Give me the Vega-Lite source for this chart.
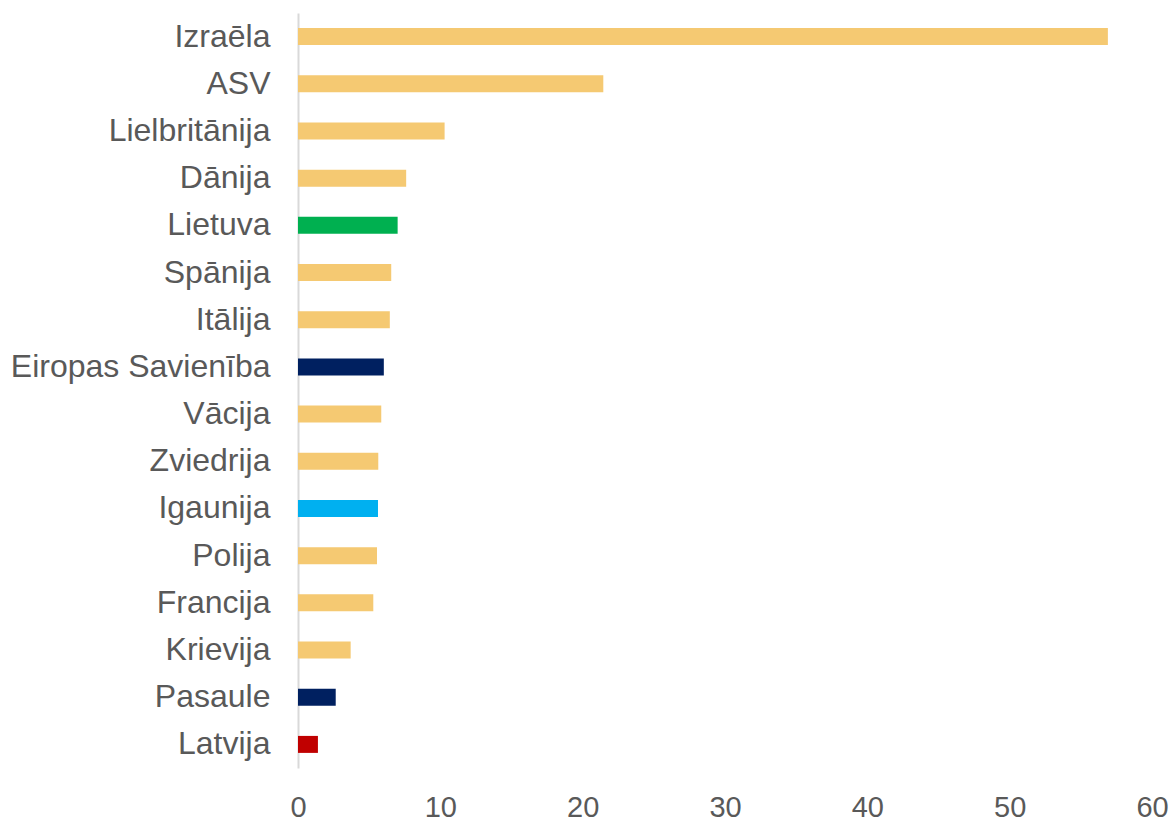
{
  "$schema": "https://vega.github.io/schema/vega-lite/v6.json",
  "autosize": {"type": "none"},
  "padding": {"left": 298, "top": 13, "right": 21, "bottom": 52},
  "width": 854,
  "height": 755,
  "background": "white",
  "config": {"view": {"stroke": null}, "font": "Liberation Sans"},
  "data": {
    "values": [
      {"valsts": "Izraēla", "vertiba": 56.9, "grupa": "Citas"},
      {"valsts": "ASV", "vertiba": 21.45, "grupa": "Citas"},
      {"valsts": "Lielbritānija", "vertiba": 10.3, "grupa": "Citas"},
      {"valsts": "Dānija", "vertiba": 7.6, "grupa": "Citas"},
      {"valsts": "Lietuva", "vertiba": 7.0, "grupa": "Lietuva"},
      {"valsts": "Spānija", "vertiba": 6.55, "grupa": "Citas"},
      {"valsts": "Itālija", "vertiba": 6.45, "grupa": "Citas"},
      {"valsts": "Eiropas Savienība", "vertiba": 6.03, "grupa": "Kopā"},
      {"valsts": "Vācija", "vertiba": 5.85, "grupa": "Citas"},
      {"valsts": "Zviedrija", "vertiba": 5.64, "grupa": "Citas"},
      {"valsts": "Igaunija", "vertiba": 5.62, "grupa": "Igaunija"},
      {"valsts": "Polija", "vertiba": 5.55, "grupa": "Citas"},
      {"valsts": "Francija", "vertiba": 5.29, "grupa": "Citas"},
      {"valsts": "Krievija", "vertiba": 3.7, "grupa": "Citas"},
      {"valsts": "Pasaule", "vertiba": 2.65, "grupa": "Kopā"},
      {"valsts": "Latvija", "vertiba": 1.4, "grupa": "Latvija"}
    ]
  },
  "mark": {"type": "bar"},
  "encoding": {
    "y": {
      "field": "valsts",
      "type": "nominal",
      "sort": null,
      "scale": {"paddingInner": 0.64, "paddingOuter": 0.32},
      "axis": {
        "title": null,
        "ticks": false,
        "domainColor": "#D9D9D9",
        "domainWidth": 2,
        "labelFontSize": 32,
        "labelColor": "#595959",
        "labelPadding": 28,
        "labelLimit": 400
      }
    },
    "x": {
      "field": "vertiba",
      "type": "quantitative",
      "scale": {"domain": [0, 60], "nice": false},
      "axis": {
        "title": null,
        "values": [0, 10, 20, 30, 40, 50, 60],
        "grid": false,
        "domain": false,
        "ticks": false,
        "labelFontSize": 29,
        "labelColor": "#595959",
        "labelPadding": 25,
        "labelFlush": false
      }
    },
    "color": {
      "field": "grupa",
      "type": "nominal",
      "scale": {
        "domain": ["Citas", "Lietuva", "Igaunija", "Latvija", "Kopā"],
        "range": ["#F5C972", "#00B050", "#00B0F0", "#C00000", "#002060"]
      },
      "legend": null
    }
  }
}
